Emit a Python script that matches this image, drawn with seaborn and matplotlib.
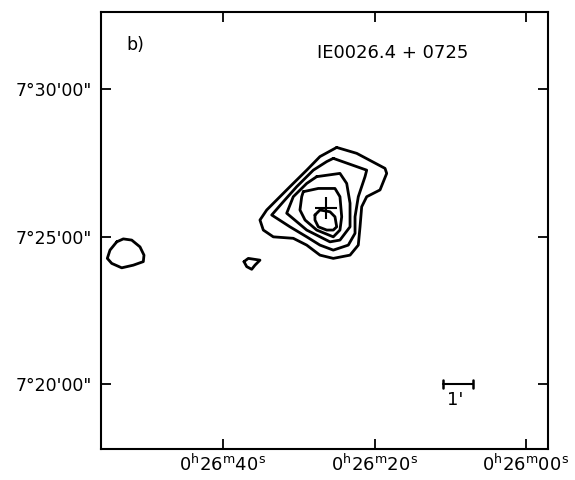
import matplotlib
matplotlib.use("Agg")
import matplotlib.pyplot as plt
import numpy as np
import pandas as pd
import seaborn as sns

# ---- data (RA in seconds after 0h26m, Dec in arcmin after 7 deg) ----
outer_ra = [24.99, 22.35, 18.61, 18.39, 19.27, 21.03, 21.69, 21.91, 22.14, 23.23, 25.44,
            27.20, 28.95, 30.72, 33.36, 34.68, 35.12, 34.23, 32.91, 31.16, 28.95, 27.20]
outer_dec = [28.02, 27.82, 27.31, 27.14, 26.58, 26.35, 26.01, 25.33, 24.71, 24.37, 24.26,
             24.37, 24.71, 24.94, 24.99, 25.22, 25.56, 25.90, 26.24, 26.69, 27.25, 27.71]

second_ra = [25.44, 21.03, 21.25, 22.14, 22.57, 22.57, 23.46, 25.44, 27.20, 28.95, 31.16,
             33.57, 32.04, 30.27, 28.08, 26.31]
second_dec = [27.65, 27.25, 27.03, 26.35, 25.67, 25.11, 24.71, 24.54, 24.71, 24.99, 25.33,
              25.73, 26.18, 26.69, 27.25, 27.54]

third_ra = [27.63, 24.56, 23.67, 23.23, 23.23, 24.56, 25.88, 28.95, 31.59, 30.72, 28.95]
third_dec = [27.03, 27.14, 26.80, 26.13, 25.33, 24.88, 24.82, 25.22, 25.79, 26.35, 26.80]

fourth_ra = [29.40, 27.42, 25.22, 24.56, 24.33, 24.56, 25.44, 27.63, 29.17, 29.84, 29.61]
fourth_dec = [26.52, 26.63, 26.63, 26.35, 25.67, 25.22, 24.99, 25.22, 25.56, 25.90, 26.35]

inner_ra = [27.86, 27.20, 25.88, 25.22, 24.99, 25.44, 26.31, 27.42, 27.86]
inner_dec = [25.73, 25.90, 25.84, 25.67, 25.33, 25.22, 25.22, 25.33, 25.56]

blob_ra = [37.23, 36.66, 35.12, 35.78, 36.21, 36.87]
blob_dec = [24.15, 24.26, 24.20, 24.03, 23.89, 23.98]

left_ra = [54.03, 53.16, 52.05, 50.96, 50.43, 50.52, 51.84, 53.37, 54.69, 55.27, 54.92]
left_dec = [24.82, 24.92, 24.88, 24.65, 24.37, 24.15, 24.03, 23.94, 24.09, 24.26, 24.54]

cross_ra = [26.34]
cross_dec = [25.98]

scalebar_ra = [11.0, 7.0]
scalebar_dec = [20.0, 20.0]

xticks = [40, 20, 0]
xticklabels = [r"$0^{\rm h}26^{\rm m}40^{\rm s}$", r"$0^{\rm h}26^{\rm m}20^{\rm s}$",
               r"$0^{\rm h}26^{\rm m}00^{\rm s}$"]
yticks = [20, 25, 30]
yticklabels = ["7°20'00\"", "7°25'00\"", "7°30'00\""]

# ---- build table ----
contours = {
    "outer": (outer_ra, outer_dec),
    "second": (second_ra, second_dec),
    "third": (third_ra, third_dec),
    "fourth": (fourth_ra, fourth_dec),
    "inner": (inner_ra, inner_dec),
    "blob": (blob_ra, blob_dec),
    "left": (left_ra, left_dec),
}
rows = []
for name, (ra, dec) in contours.items():
    ra = list(ra) + [ra[0]]
    dec = list(dec) + [dec[0]]
    for i, (r, d) in enumerate(zip(ra, dec)):
        rows.append({"contour": name, "order": i, "ra": r, "dec": d})
df = pd.DataFrame(rows)

sns.set_theme(style="white")
plt.rcParams["font.family"] = ["DejaVu Sans"]
plt.rcParams["text.color"] = "black"
plt.rcParams["xtick.color"] = "black"
plt.rcParams["ytick.color"] = "black"
plt.rcParams["xtick.labelcolor"] = "black"
plt.rcParams["ytick.labelcolor"] = "black"

fig = plt.figure(figsize=(5.75, 4.8), dpi=100)
ax = fig.add_axes([0.1748, 0.0646, 0.9522 - 0.1748, 0.975 - 0.0646])

sns.lineplot(data=df, x="ra", y="dec", units="contour", estimator=None, sort=False,
             color="black", linewidth=2.0, ax=ax, legend=False)

ax.plot(cross_ra, cross_dec, marker="+", color="black", ms=16, mew=1.5, ls="none")

# scale bar
ax.plot(scalebar_ra, scalebar_dec, color="black", lw=1.5)
ax.plot([scalebar_ra[0]] * 2, [scalebar_dec[0] - 0.14, scalebar_dec[0] + 0.14], color="black", lw=1.8)
ax.plot([scalebar_ra[1]] * 2, [scalebar_dec[0] - 0.14, scalebar_dec[0] + 0.14], color="black", lw=1.8)
ax.text(9.4, 19.45, "1'", ha="center", va="center", fontsize=13, color="black")

ax.text(52.7, 31.49, "b)", ha="left", va="center", fontsize=12.5, color="black")
ax.text(17.56, 31.22, "IE0026.4 + 0725", ha="center", va="center", fontsize=13, color="black")

ax.set_xlim(56.17, -2.84)
ax.set_ylim(17.80, 32.61)
ax.set_xticks(xticks)
ax.set_xticklabels(xticklabels, fontsize=13, color="black")
ax.set_yticks(yticks)
ax.set_yticklabels(yticklabels, fontsize=12.5, color="black")
ax.set_xlabel("")
ax.set_ylabel("")
ax.tick_params(axis="both", direction="in", length=7, width=1.3, color="black",
               labelcolor="black", top=True, right=True, bottom=True, left=True)
ax.tick_params(axis="x", pad=3)
ax.tick_params(axis="y", pad=6)
for s in ax.spines.values():
    s.set_visible(True)
    s.set_color("black")
    s.set_linewidth(1.5)
ax.set_facecolor("white")
fig.patch.set_facecolor("white")

fig.savefig("out.png", dpi=100)
